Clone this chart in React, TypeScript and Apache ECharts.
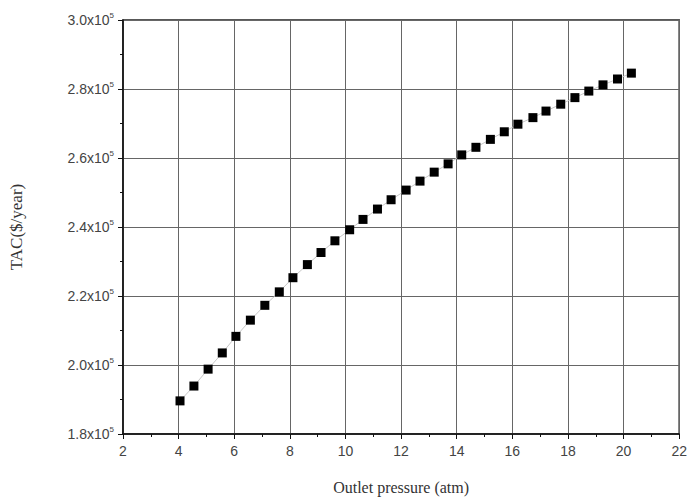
import React, { useEffect, useRef } from "react";
import * as echarts from "echarts";

const pressure = [
  4.05, 4.55, 5.06, 5.57, 6.06, 6.58, 7.1, 7.62, 8.11, 8.63, 9.12, 9.62, 10.15,
  10.63, 11.15, 11.64, 12.18, 12.68, 13.19, 13.69, 14.18, 14.69, 15.21, 15.71,
  16.2, 16.74, 17.21, 17.74, 18.25, 18.75, 19.26, 19.78, 20.28,
];
const tac = [
  189600, 193900, 198800, 203500, 208300, 213000, 217300, 221200, 225300,
  229100, 232600, 236000, 239200, 242200, 245200, 247900, 250700, 253300,
  255900, 258300, 260900, 263100, 265400, 267600, 269800, 271700, 273600,
  275600, 277500, 279400, 281200, 282900, 284600,
];
const xTitle = "Outlet pressure (atm)";
const yTitle = "TAC($/year)";

export default function App() {
  const ref = useRef<HTMLDivElement>(null);
  useEffect(() => {
    if (!ref.current) return;
    const chart = echarts.init(ref.current, null, { renderer: "svg" });
    const data = pressure.map((p, i) => [p, tac[i]]);
    chart.setOption({
      animation: false,
      backgroundColor: "#fff",
      grid: {
        left: 120,
        right: 10,
        top: 20,
        bottom: 66,
        show: true,
        borderColor: "#222",
        borderWidth: 1.5,
      },
      xAxis: {
        type: "value",
        min: 2,
        max: 22,
        interval: 2,
        name: xTitle,
        nameLocation: "middle",
        nameGap: 45,
        nameTextStyle: { fontFamily: "Liberation Serif", fontSize: 16, color: "#333" },
        axisLine: { show: true, onZero: false, lineStyle: { color: "#111", width: 1.5 } },
        axisTick: { show: true, inside: false, length: 5, lineStyle: { color: "#111" } },
        minorTick: { show: true, splitNumber: 2, length: 3, lineStyle: { color: "#111" } },
        axisLabel: { fontFamily: "Liberation Sans", fontSize: 14, color: "#444", margin: 10 },
        splitLine: { show: true, lineStyle: { color: "#666", width: 1 } },
      },
      yAxis: {
        type: "value",
        min: 180000,
        max: 300000,
        interval: 20000,
        name: yTitle,
        nameLocation: "middle",
        nameGap: 98,
        nameRotate: 90,
        nameTextStyle: { fontFamily: "Liberation Serif", fontSize: 17, color: "#333" },
        axisLine: { show: true, onZero: false, lineStyle: { color: "#111", width: 1.5 } },
        axisTick: { show: true, inside: false, length: 5, lineStyle: { color: "#111" } },
        minorTick: { show: true, splitNumber: 2, length: 3, lineStyle: { color: "#111" } },
        axisLabel: {
          margin: 9,
          formatter: (v: number) => `{m|${(v / 100000).toFixed(1)}x10}{s|5}`,
          rich: {
            m: { fontFamily: "Liberation Sans", fontSize: 14, color: "#444" },
            s: { fontFamily: "Liberation Sans", fontSize: 8, color: "#444", padding: [0, 0, 9, 0] },
          },
        },
        splitLine: { show: true, lineStyle: { color: "#666", width: 1 } },
      },
      series: [
        {
          type: "line",
          data,
          symbol: "rect",
          symbolSize: 9,
          showAllSymbol: true,
          itemStyle: { color: "#000" },
          lineStyle: { color: "#c8c8c8", width: 1 },
        },
      ],
    });
    return () => chart.dispose();
  }, []);
  return (
    <div
      ref={ref}
      style={{ position: "fixed", left: 0, top: 0, width: 690, height: 500 }}
    />
  );
}
